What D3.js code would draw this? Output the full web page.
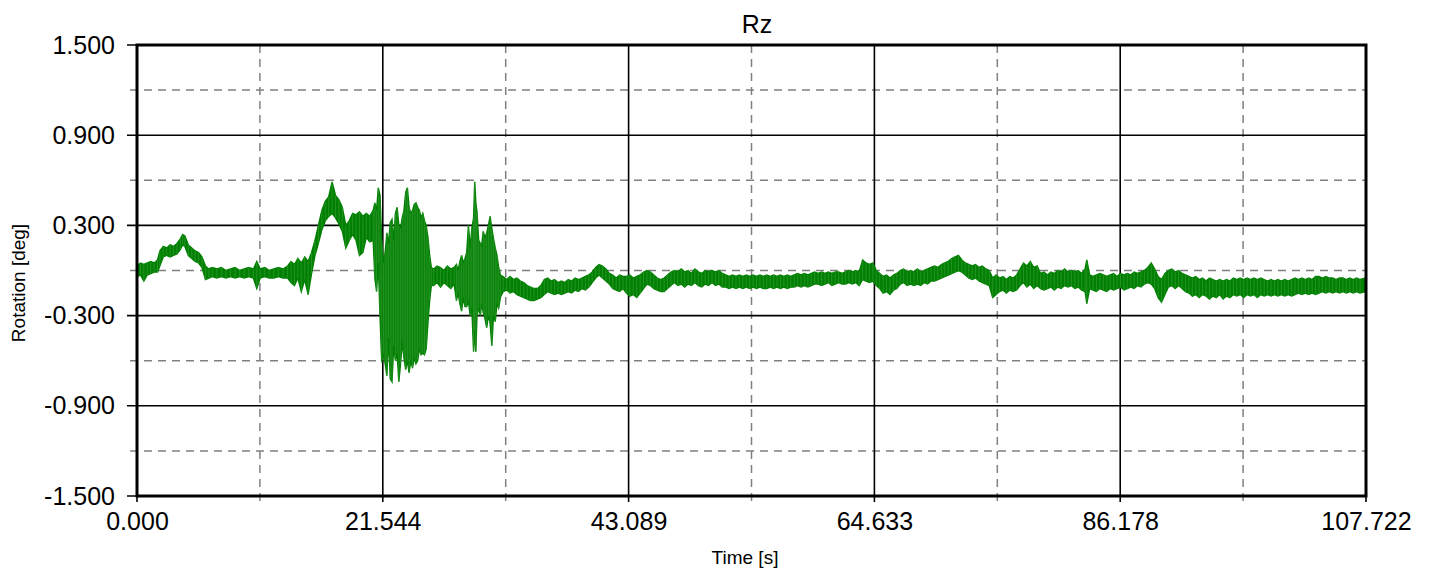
<!DOCTYPE html>
<html>
<head>
<meta charset="utf-8">
<script src="https://cdn.jsdelivr.net/npm/d3@7"></script>
<style>
  html, body { margin: 0; padding: 0; background: #fff; }
  svg { display: block; font-family: "Liberation Sans", Arial, sans-serif; }
</style>
</head>
<body>
<svg id="chart" width="1430" height="571"></svg>
<script>
// Rz rotation record: envelope of the sampled signal (deg) at each time (s)
const time = [
  0.0,0.3,0.6,0.9,1.2,1.5,1.8,2.0,2.3,2.6,2.9,3.2,3.5,3.8,4.0,4.2,4.5,4.8,5.1,5.4,5.7,6.0,
  6.3,6.6,7.0,7.4,7.8,8.2,8.6,9.0,9.4,9.8,10.2,10.5,10.8,11.2,11.6,12.0,12.4,12.8,13.2,
  13.5,13.8,14.1,14.4,14.7,15.0,15.3,15.6,15.9,16.2,16.5,16.8,17.1,17.4,17.7,18.0,18.3,18.6,
  18.9,19.2,19.5,19.8,20.1,20.4,20.7,
  20.85,21.0,21.15,21.3,21.45,21.6,21.75,21.9,22.05,22.2,22.35,22.5,22.65,22.8,22.95,23.1,
  23.25,23.4,23.55,23.7,23.85,24.0,24.15,24.3,24.45,24.6,24.75,24.9,25.05,25.2,25.35,25.5,
  25.65,25.8,
  26.0,26.3,26.6,26.9,27.2,27.5,27.8,
  28.0,28.15,28.3,28.45,28.6,28.75,28.9,29.05,29.2,29.35,29.5,29.6,29.7,29.8,29.95,30.1,
  30.2,30.35,30.5,30.65,30.8,30.95,31.1,31.25,31.4,31.55,31.7,31.85,
  32.1,32.4,32.7,33.0,33.3,33.6,33.9,34.2,34.5,34.8,35.1,35.4,35.7,36.0,36.3,36.6,36.9,37.2,
  37.5,37.8,38.1,38.4,38.7,39.0,39.3,39.6,39.9,40.2,40.5,40.8,41.1,41.4,41.7,42.0,42.3,42.6,
  42.9,43.2,43.5,43.8,44.1,44.4,44.7,45.0,45.3,45.6,45.9,46.2,46.5,46.8,47.1,47.4,47.7,48.0,
  48.3,48.6,48.9,49.2,49.5,49.8,50.1,50.4,50.7,51.0,51.3,51.6,51.9,52.2,52.5,52.8,53.1,53.4,
  53.7,54.0,54.3,54.6,54.9,55.2,55.5,55.8,56.1,56.4,56.7,57.0,57.3,57.6,57.9,58.2,58.5,58.8,
  59.1,59.4,59.7,60.0,60.3,60.6,60.9,61.2,61.5,61.8,62.1,62.4,62.7,63.0,63.3,
  63.6,63.9,64.2,64.5,64.8,65.1,65.4,65.7,66.0,66.3,66.6,
  66.9,67.2,67.5,67.8,68.1,68.4,68.7,69.0,69.3,69.6,69.9,70.2,70.5,
  70.8,71.1,71.4,71.7,72.0,72.3,72.6,72.9,73.2,73.5,73.8,74.1,74.4,74.7,75.0,75.3,
  75.6,75.9,76.2,76.5,76.8,77.1,77.4,77.7,78.0,78.3,78.6,78.9,
  79.2,79.5,79.8,80.1,80.4,80.7,81.0,81.3,81.6,81.9,82.2,82.5,82.8,83.1,83.25,83.5,
  83.8,84.1,84.4,84.7,85.0,85.3,85.6,85.9,86.2,86.5,86.8,87.1,87.4,87.7,88.0,88.3,
  88.6,88.9,89.2,89.5,89.8,90.1,90.4,90.7,91.0,91.3,91.6,
  91.9,92.2,92.5,92.8,93.1,93.4,93.7,94.0,94.3,94.6,94.9,95.2,95.5,95.8,
  96.1,96.4,96.7,97.0,97.3,97.6,97.9,98.2,98.5,98.8,99.1,99.4,99.7,100.0,100.3,100.6,100.9,
  101.2,101.5,101.8,102.1,102.4,102.7,103.0,103.3,
  103.6,103.9,104.2,104.5,104.8,105.1,105.4,105.7,106.0,106.3,106.6,106.9,107.2,107.722
];

const rzHigh = [
  0.03,0.05,0.04,0.05,0.06,0.05,0.07,0.13,0.16,0.15,0.17,0.16,0.18,0.21,0.24,0.23,0.17,0.15,0.13,0.12,0.09,0.03,
  0.01,0.02,0.01,0.02,0.00,0.01,0.02,0.00,0.01,0.02,0.01,0.06,0.01,0.02,0.00,0.01,0.02,0.01,0.03,
  0.06,0.04,0.08,0.05,0.09,0.06,0.12,0.20,0.30,0.40,0.46,0.49,0.59,0.50,0.47,0.42,0.30,0.33,
  0.38,0.37,0.39,0.36,0.38,0.36,0.40,
  0.45,0.40,0.55,0.50,0.20,0.05,0.12,0.25,0.18,0.32,0.34,0.20,0.38,0.42,0.30,0.28,
  0.35,0.40,0.52,0.55,0.42,0.38,0.40,0.44,0.45,0.42,0.40,0.35,0.38,0.33,0.30,0.22,
  0.10,0.02,
  0.01,0.03,0.02,0.00,0.03,0.01,0.02,
  0.04,0.00,0.06,0.10,0.05,0.08,0.12,0.30,0.15,0.28,0.35,0.59,0.45,0.39,0.20,0.18,
  0.16,0.26,0.22,0.25,0.30,0.36,0.28,0.21,0.15,0.10,0.02,-0.03,
  -0.04,-0.06,-0.04,-0.06,-0.05,-0.07,-0.08,-0.10,-0.11,-0.12,-0.12,-0.10,-0.06,-0.05,-0.07,-0.06,-0.08,-0.07,
  -0.08,-0.06,-0.07,-0.05,-0.06,-0.05,-0.04,-0.03,-0.01,0.02,0.04,0.03,0.01,-0.02,-0.03,-0.05,-0.03,-0.04,
  -0.04,-0.03,-0.05,-0.04,-0.03,-0.01,0.00,-0.01,-0.03,-0.05,-0.06,-0.05,-0.03,-0.01,0.00,-0.01,0.01,-0.01,
  0.00,-0.02,0.01,-0.01,-0.02,0.00,-0.01,0.00,-0.01,0.00,-0.02,-0.03,-0.04,-0.03,-0.04,-0.03,-0.04,-0.03,
  -0.04,-0.03,-0.04,-0.03,-0.04,-0.03,-0.04,-0.03,-0.04,-0.03,-0.04,-0.03,-0.04,-0.03,-0.02,-0.03,-0.02,-0.03,
  -0.02,-0.01,-0.02,-0.01,-0.02,-0.01,-0.02,-0.01,-0.01,-0.02,-0.01,0.00,-0.01,0.00,-0.01,
  0.07,0.05,0.04,0.05,0.00,-0.02,-0.04,-0.03,-0.05,-0.03,-0.02,
  0.00,0.01,-0.01,0.00,-0.01,0.01,-0.01,0.00,0.01,0.02,0.03,0.02,0.04,
  0.05,0.06,0.08,0.09,0.10,0.07,0.05,0.04,0.03,0.04,0.02,0.03,0.01,0.00,-0.05,-0.03,
  -0.05,-0.04,-0.06,-0.04,-0.05,-0.03,0.01,0.05,0.03,0.06,0.02,0.03,
  -0.02,-0.01,-0.03,-0.01,-0.02,0.00,-0.01,0.01,-0.01,0.00,-0.01,0.00,-0.02,0.01,0.07,-0.03,
  -0.04,-0.03,-0.02,-0.03,-0.04,-0.03,-0.02,-0.04,-0.02,-0.03,-0.02,-0.03,-0.01,-0.02,-0.01,0.00,
  0.02,0.05,0.01,-0.04,-0.06,-0.02,0.00,0.01,-0.01,0.00,-0.02,
  -0.03,-0.04,-0.05,-0.04,-0.06,-0.05,-0.07,-0.05,-0.06,-0.07,-0.06,-0.07,-0.06,-0.07,
  -0.05,-0.06,-0.05,-0.06,-0.05,-0.06,-0.05,-0.06,-0.05,-0.06,-0.07,-0.06,-0.07,-0.06,-0.07,-0.06,-0.07,
  -0.06,-0.05,-0.06,-0.05,-0.06,-0.05,-0.06,-0.04,
  -0.04,-0.05,-0.04,-0.05,-0.05,-0.06,-0.05,-0.05,-0.06,-0.05,-0.06,-0.05,-0.06,-0.05
];

const rzLow = [
  -0.04,-0.03,-0.07,-0.03,-0.02,-0.01,-0.01,0.03,0.09,0.10,0.09,0.10,0.11,0.14,0.17,0.16,0.10,0.08,0.06,0.05,0.02,-0.06,
  -0.05,-0.04,-0.05,-0.04,-0.05,-0.04,-0.05,-0.04,-0.05,-0.04,-0.05,-0.12,-0.05,-0.04,-0.05,-0.05,-0.04,-0.05,-0.05,
  -0.08,-0.10,-0.05,-0.14,-0.06,-0.16,-0.02,0.10,0.18,0.27,0.33,0.36,0.38,0.35,0.31,0.26,0.15,0.20,
  0.24,0.20,0.10,0.12,0.22,0.19,0.20,
  -0.05,-0.14,0.05,-0.30,-0.61,-0.55,-0.62,-0.70,-0.45,-0.72,-0.74,-0.50,-0.60,-0.55,-0.74,-0.62,
  -0.48,-0.58,-0.66,-0.60,-0.68,-0.60,-0.65,-0.58,-0.62,-0.60,-0.52,-0.56,-0.55,-0.56,-0.52,-0.35,
  -0.20,-0.10,
  -0.10,-0.08,-0.11,-0.08,-0.10,-0.12,-0.09,
  -0.20,-0.15,-0.22,-0.27,-0.18,-0.24,-0.24,-0.20,-0.30,-0.25,-0.54,-0.40,-0.54,-0.30,-0.25,-0.30,
  -0.22,-0.28,-0.32,-0.38,-0.30,-0.35,-0.50,-0.30,-0.34,-0.22,-0.25,-0.18,
  -0.14,-0.13,-0.15,-0.14,-0.16,-0.17,-0.18,-0.19,-0.20,-0.20,-0.19,-0.18,-0.16,-0.14,-0.15,-0.16,-0.15,-0.16,
  -0.15,-0.14,-0.15,-0.13,-0.14,-0.12,-0.13,-0.11,-0.08,-0.05,-0.03,-0.05,-0.07,-0.09,-0.12,-0.13,-0.14,-0.12,
  -0.15,-0.17,-0.16,-0.18,-0.15,-0.12,-0.09,-0.10,-0.12,-0.13,-0.14,-0.14,-0.12,-0.10,-0.08,-0.10,-0.09,-0.11,
  -0.09,-0.10,-0.08,-0.10,-0.11,-0.09,-0.10,-0.08,-0.10,-0.09,-0.11,-0.11,-0.12,-0.11,-0.12,-0.11,-0.12,-0.11,
  -0.12,-0.11,-0.12,-0.11,-0.12,-0.12,-0.11,-0.12,-0.11,-0.12,-0.11,-0.12,-0.11,-0.11,-0.10,-0.11,-0.10,-0.11,
  -0.10,-0.09,-0.09,-0.10,-0.09,-0.08,-0.10,-0.09,-0.08,-0.09,-0.09,-0.08,-0.09,-0.08,-0.10,
  -0.06,-0.07,-0.08,-0.07,-0.10,-0.12,-0.15,-0.14,-0.16,-0.13,-0.12,
  -0.09,-0.08,-0.10,-0.09,-0.10,-0.09,-0.10,-0.08,-0.09,-0.07,-0.07,-0.06,-0.05,
  -0.04,-0.03,-0.02,-0.01,0.00,-0.01,-0.03,-0.05,-0.06,-0.05,-0.07,-0.08,-0.09,-0.10,-0.18,-0.16,
  -0.14,-0.13,-0.15,-0.13,-0.14,-0.13,-0.10,-0.08,-0.11,-0.09,-0.12,-0.10,
  -0.12,-0.13,-0.12,-0.11,-0.13,-0.11,-0.12,-0.10,-0.11,-0.10,-0.12,-0.11,-0.13,-0.14,-0.22,-0.12,
  -0.13,-0.14,-0.12,-0.13,-0.14,-0.12,-0.13,-0.12,-0.11,-0.13,-0.12,-0.11,-0.12,-0.10,-0.11,-0.09,
  -0.08,-0.09,-0.12,-0.18,-0.21,-0.16,-0.11,-0.10,-0.12,-0.10,-0.12,
  -0.14,-0.15,-0.17,-0.16,-0.18,-0.16,-0.17,-0.19,-0.17,-0.18,-0.16,-0.19,-0.17,-0.18,
  -0.16,-0.17,-0.16,-0.18,-0.16,-0.17,-0.16,-0.18,-0.16,-0.17,-0.16,-0.17,-0.16,-0.17,-0.16,-0.17,-0.16,
  -0.17,-0.16,-0.15,-0.16,-0.15,-0.16,-0.15,-0.16,
  -0.15,-0.14,-0.15,-0.14,-0.15,-0.14,-0.15,-0.14,-0.15,-0.14,-0.15,-0.14,-0.15,-0.14
];

// Axis ticks: labelled major lines and dashed minor lines in between
const xMajorTicks = [0, 21.544, 43.089, 64.633, 86.178, 107.722];
const xMinorTicks = [10.772, 32.317, 53.861, 75.406, 96.950];
const yMajorTicks = [-1.5, -0.9, -0.3, 0.3, 0.9, 1.5];
const yMinorTicks = [-1.2, -0.6, 0.0, 0.6, 1.2];

const chartTitle = "Rz";
const xTitle = "Time [s]";
const yTitle = "Rotation [deg]";

const plot = { left: 137, right: 1366, top: 45, bottom: 496 };

const svg = d3.select("#chart");

const x = d3.scaleLinear().domain([0, 107.722]).range([plot.left, plot.right]);
const y = d3.scaleLinear().domain([-1.5, 1.5]).range([plot.bottom, plot.top]);

// three decimals with a plain hyphen for negatives
const fmt3 = d => d3.format(".3f")(d).replace("\u2212", "-");

// minor dashed grid (extends a little past the frame like tick marks)
const grid = svg.append("g");
grid.selectAll("line.ymin").data(yMinorTicks).join("line")
  .attr("x1", plot.left - 7).attr("x2", plot.right)
  .attr("y1", d => y(d)).attr("y2", d => y(d))
  .attr("stroke", "#808080").attr("stroke-width", 1.5).attr("stroke-dasharray", "8,6");
grid.selectAll("line.xmin").data(xMinorTicks).join("line")
  .attr("x1", d => x(d)).attr("x2", d => x(d))
  .attr("y1", plot.top).attr("y2", plot.bottom + 6)
  .attr("stroke", "#808080").attr("stroke-width", 1.5).attr("stroke-dasharray", "8,6");

// major solid grid
grid.selectAll("line.ymaj").data(yMajorTicks).join("line")
  .attr("x1", plot.left - 10).attr("x2", plot.right)
  .attr("y1", d => y(d)).attr("y2", d => y(d))
  .attr("stroke", "#000").attr("stroke-width", 1.6);
grid.selectAll("line.xmaj").data(xMajorTicks).join("line")
  .attr("x1", d => x(d)).attr("x2", d => x(d))
  .attr("y1", plot.top).attr("y2", plot.bottom + 6)
  .attr("stroke", "#000").attr("stroke-width", 1.6);

// signal band
const samples = time.map((t, i) => ({ t, lo: rzLow[i], hi: rzHigh[i] }));
const band = d3.area()
  .x(d => x(d.t))
  .y0(d => y(d.lo))
  .y1(d => y(d.hi));
svg.append("path")
  .datum(samples)
  .attr("d", band)
  .attr("fill", "#008000")
  .attr("stroke", "#008000")
  .attr("stroke-width", 1.4)
  .attr("stroke-linejoin", "miter");

// sample strokes across the band
svg.append("g").selectAll("line").data(samples).join("line")
  .attr("x1", d => x(d.t)).attr("x2", d => x(d.t))
  .attr("y1", d => y(d.hi)).attr("y2", d => y(d.lo))
  .attr("stroke", "#2e962e").attr("stroke-width", 0.8);

// frame
svg.append("rect")
  .attr("x", plot.left).attr("y", plot.top)
  .attr("width", plot.right - plot.left).attr("height", plot.bottom - plot.top)
  .attr("fill", "none").attr("stroke", "#000").attr("stroke-width", 3);

// tick labels
const yAxis = d3.axisLeft(y).tickValues(yMajorTicks).tickFormat(fmt3).tickSize(0).tickPadding(22);
const gy = svg.append("g").attr("transform", `translate(${plot.left},0)`).call(yAxis);
gy.select(".domain").remove();
gy.selectAll("text").attr("font-size", 25).attr("fill", "#000")
  .attr("font-family", "Liberation Sans, Arial, sans-serif");

const xAxis = d3.axisBottom(x).tickValues(xMajorTicks).tickFormat(fmt3).tickSize(0).tickPadding(16);
const gx = svg.append("g").attr("transform", `translate(0,${plot.bottom})`).call(xAxis);
gx.select(".domain").remove();
gx.selectAll("text").attr("font-size", 25).attr("fill", "#000")
  .attr("font-family", "Liberation Sans, Arial, sans-serif");

// titles
svg.append("text").attr("x", 757).attr("y", 33).attr("text-anchor", "middle")
  .attr("font-size", 25).text(chartTitle);
svg.append("text").attr("x", 745).attr("y", 564).attr("text-anchor", "middle")
  .attr("font-size", 19).text(xTitle);
svg.append("text").attr("transform", "translate(25,283) rotate(-90)")
  .attr("text-anchor", "middle").attr("font-size", 19).text(yTitle);
</script>
</body>
</html>
